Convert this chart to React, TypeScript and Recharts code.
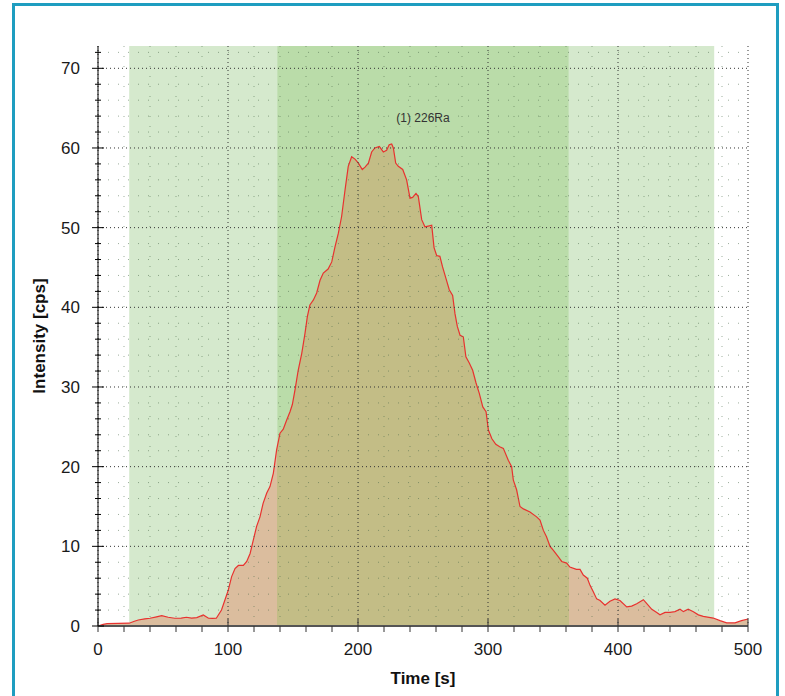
import React from 'react';
import { AreaChart, Area, XAxis, YAxis, CartesianGrid, ReferenceArea } from 'recharts';

// time axis [s] and measured intensity [cps] for 226Ra
const times = [
  0, 4, 7, 24, 28, 31, 36, 40, 45, 49, 54, 59, 64, 68, 72, 76, 81, 85, 88, 91,
  95, 97.7, 100.2, 102.8, 105.4, 108, 111.8, 114.4, 117, 119.5, 122, 124.6, 127, 129.8, 132.3, 134.9,
  137.4, 140, 142.5, 145, 147.7, 149.5, 151.5, 154, 156.7, 159.2, 161, 163, 165.6, 168.2, 170.8, 173.3,
  177, 179.8, 182.3, 184.9, 187.4, 190, 192.5, 195.1, 197.7, 200.3, 203.3, 205.4, 208, 210.5, 213, 216.4,
  219.5, 222, 224, 225.9, 227.2, 229, 231, 234.4, 237.4, 240, 242, 244.6, 246.4, 249, 251.5, 254,
  256.7, 258.5, 260.5, 263, 265, 267.7, 270.2, 272.8, 274.6, 276.4, 278.5, 281, 283, 285.6, 288.2, 290.8,
  293.3, 296, 298.5, 300.3, 303, 306, 309, 311.8, 315.6, 318.2, 319.5, 322, 324.6, 327.2, 332.3, 337.4,
  340, 342.6, 345, 347.7, 350.3, 354, 356.7, 360.5, 363, 368, 370.8, 373.3, 376.4, 378.5, 381, 383.6,
  386.2, 390, 393.8, 397.7, 401.5, 406.7, 410.5, 414.4, 419.5, 422, 426, 429.8, 432.3, 436.2, 440, 443.8,
  447.7, 450.3, 454, 458, 461.8, 465.6, 473.3, 478.5, 483.6, 490, 495, 500,
];
const intensity = [
  0, 0.2, 0.3, 0.35, 0.6, 0.75, 0.9, 0.97, 1.15, 1.3, 1.1, 0.97, 1.0, 1.1, 1.0, 1.05, 1.38, 0.97, 0.95, 0.97,
  2.0, 3.3, 4.5, 6.2, 7.2, 7.6, 7.6, 8.1, 9.1, 10.8, 12.5, 13.7, 15.4, 16.7, 17.5, 19.2,
  22.1, 24.2, 24.7, 25.8, 26.9, 27.8, 29.6, 32.1, 34.2, 36.7, 38.8, 40.3, 40.9, 41.8, 43.4, 44.3,
  44.8, 45.7, 47.6, 49.3, 51.4, 54.7, 57.7, 58.9, 58.6, 58.1, 57.3, 57.6, 58.1, 59.5, 60.0, 60.2,
  59.5, 59.7, 60.4, 60.5, 60.0, 58.1, 57.7, 57.3, 56.0, 53.7, 53.8, 54.3, 53.9, 51, 50.1, 50.2,
  50.3, 47.5, 46.5, 46.4, 45.1, 43.6, 42.2, 41.5, 39.2, 37.6, 36.5, 36.3, 33.8, 33.0, 32.1, 30.5,
  29.2, 27.5, 26.9, 24.6, 23.5, 22.8, 22.5, 22.3, 20.8, 20.0, 18.3, 17.1, 15.0, 14.7, 14.3, 13.7,
  13.3, 12.0, 11.2, 10.0, 9.5, 8.7, 8.1, 7.9, 7.4, 7.1, 7.1, 6.4, 6.0, 5.1, 4.3, 3.4,
  3.2, 2.6, 3.1, 3.4, 3.2, 2.4, 2.5, 2.8, 3.3, 2.85, 2.1, 1.7, 1.4, 1.7, 1.7, 1.8,
  2.1, 1.8, 2.1, 1.8, 1.4, 1.2, 1.0, 0.67, 0.4, 0.4, 0.67, 0.88,
];

// integration windows [s]
const outerWindow = [24, 474];
const peakWindow = [138, 362];
const peakLabel = '(1) 226Ra';

const xMajor = [0, 100, 200, 300, 400, 500];
const xMinor = [20, 40, 60, 80, 120, 140, 160, 180, 220, 240, 260, 280, 320, 340, 360, 380, 420, 440, 460, 480];
const yMajor = [0, 10, 20, 30, 40, 50, 60, 70];
const yMinor = [2, 4, 6, 8, 12, 14, 16, 18, 22, 24, 26, 28, 32, 34, 36, 38, 42, 44, 46, 48, 52, 54, 56, 58, 62, 64, 66, 68, 72];
const xMax = 500;
const yMax = 72.8;

const data = times.map((t, i) => ({ t, v: intensity[i] }));
const xTicks = [...xMajor, ...xMinor].sort((a, b) => a - b);
const yTicks = [...yMajor, ...yMinor].sort((a, b) => a - b);

const FONT = '"Liberation Sans", Arial, sans-serif';

const LeftTick = (props: any) => {
  const { x, y, payload } = props;
  const major = payload.value % 10 === 0;
  const len = major ? 6 : 3;
  return (
    <g>
      <line x1={x - len} x2={x + len} y1={y} y2={y} stroke="#000" />
      {major && (
        <text x={x - 18} y={y} dy="0.36em" textAnchor="end" fontSize={17} fill="#1a1a1a" fontFamily={FONT}>
          {payload.value}
        </text>
      )}
    </g>
  );
};

const RightTick = (props: any) => {
  const { x, y, payload } = props;
  const len = payload.value % 10 === 0 ? 6 : 3;
  return <line x1={x - len} x2={x} y1={y} y2={y} stroke="#000" />;
};

const TopTick = (props: any) => {
  const { x, y, payload } = props;
  const len = payload.value % 100 === 0 ? 5 : 3;
  return <line x1={x} x2={x} y1={y} y2={y + len} stroke="#000" />;
};

const BottomTick = (props: any) => {
  const { x, y, payload } = props;
  const major = payload.value % 100 === 0;
  return (
    <g>
      <line x1={x} x2={x} y1={major ? y - 7 : y} y2={y + 6} stroke="#333" />
      {major && (
        <text x={x} y={y + 29} textAnchor="middle" fontSize={17} fill="#1a1a1a" fontFamily={FONT}>
          {payload.value}
        </text>
      )}
    </g>
  );
};

const YTitle = (props: any) => {
  const { x, y, height } = props.viewBox;
  const cx = x + 7;
  const cy = y + height / 2;
  return (
    <text
      x={cx}
      y={cy}
      transform={`rotate(-90, ${cx}, ${cy})`}
      textAnchor="middle"
      fontSize={17}
      fontWeight="bold"
      fill="#111"
      fontFamily={FONT}
    >
      Intensity [cps]
    </text>
  );
};

const XTitle = (props: any) => {
  const { x, y, width } = props.viewBox;
  return (
    <text x={x + width / 2} y={y + 58} textAnchor="middle" fontSize={17} fontWeight="bold" fill="#111" fontFamily={FONT}>
      Time [s]
    </text>
  );
};

const App = () => {
  const p0 = peakWindow[0] / xMax;
  const p1 = peakWindow[1] / xMax;
  return (
    <div style={{ position: 'absolute', left: 0, top: 0, width: 785, height: 696, overflow: 'hidden', background: '#fff' }}>
      <div
        style={{
          position: 'absolute',
          left: 12,
          top: 3,
          width: 767,
          height: 760,
          border: '3px solid #1e9dc0',
          boxSizing: 'border-box',
        }}
      />
      <div style={{ position: 'absolute', left: 0, top: 0 }}>
        <AreaChart width={785} height={696} data={data} margin={{ top: 46, right: 37, bottom: 30, left: 38 }}>
          <defs>
            <linearGradient id="areaFill" x1="0" y1="0" x2="1" y2="0">
              <stop offset={0} stopColor="#dbbd9e" />
              <stop offset={p0} stopColor="#dbbd9e" />
              <stop offset={p0} stopColor="#c3bd86" />
              <stop offset={p1} stopColor="#c3bd86" />
              <stop offset={p1} stopColor="#dbbd9e" />
              <stop offset={1} stopColor="#dbbd9e" />
            </linearGradient>
          </defs>
          <ReferenceArea x1={outerWindow[0]} x2={outerWindow[1]} fill="#d5e9cd" fillOpacity={1} stroke="none" zIndex={-300} />
          <ReferenceArea
            x1={peakWindow[0]}
            x2={peakWindow[1]}
            fill="#badca9"
            fillOpacity={1}
            stroke="none"
            zIndex={-250}
            label={{ value: peakLabel, position: 'insideTop', offset: 67, fill: '#333', fontSize: 12, fontFamily: FONT }}
          />
          <Area
            type="linear"
            dataKey="v"
            stroke="#e8322f"
            strokeWidth={1.2}
            fill="url(#areaFill)"
            fillOpacity={1}
            dot={false}
            activeDot={false}
            isAnimationActive={false}
            zIndex={-200}
          />
          <CartesianGrid horizontalValues={yMinor} verticalValues={xMinor} stroke="#4a6a4a" strokeOpacity={0.55} strokeDasharray="1 9" zIndex={-150} />
          <CartesianGrid horizontalValues={yMajor} verticalValues={xMajor} stroke="#333" strokeDasharray="1 3" zIndex={-140} />
          <XAxis
            xAxisId={0}
            dataKey="t"
            type="number"
            domain={[0, xMax]}
            ticks={xTicks}
            interval={0}
            height={40}
            tickSize={0}
            tickMargin={0}
            tick={<BottomTick />}
            axisLine={{ stroke: '#555', strokeWidth: 2 }}
            tickLine={false}
            label={{ content: <XTitle /> }}
          />
          <XAxis
            xAxisId="top"
            orientation="top"
            dataKey="t"
            type="number"
            domain={[0, xMax]}
            ticks={xTicks}
            interval={0}
            height={0}
            tickSize={0}
            tickMargin={0}
            tick={<TopTick />}
            axisLine={{ stroke: '#000' }}
            tickLine={false}
          />
          <YAxis
            yAxisId={0}
            type="number"
            domain={[0, yMax]}
            ticks={yTicks}
            interval={0}
            width={60}
            tickSize={0}
            tickMargin={0}
            tick={<LeftTick />}
            axisLine={{ stroke: '#000' }}
            tickLine={false}
            label={{ content: <YTitle /> }}
          />
          <YAxis
            yAxisId="right"
            orientation="right"
            type="number"
            domain={[0, yMax]}
            ticks={yTicks}
            interval={0}
            width={0}
            tickSize={0}
            tickMargin={0}
            tick={<RightTick />}
            axisLine={{ stroke: '#000' }}
            tickLine={false}
          />
        </AreaChart>
      </div>
    </div>
  );
};

export default App;
